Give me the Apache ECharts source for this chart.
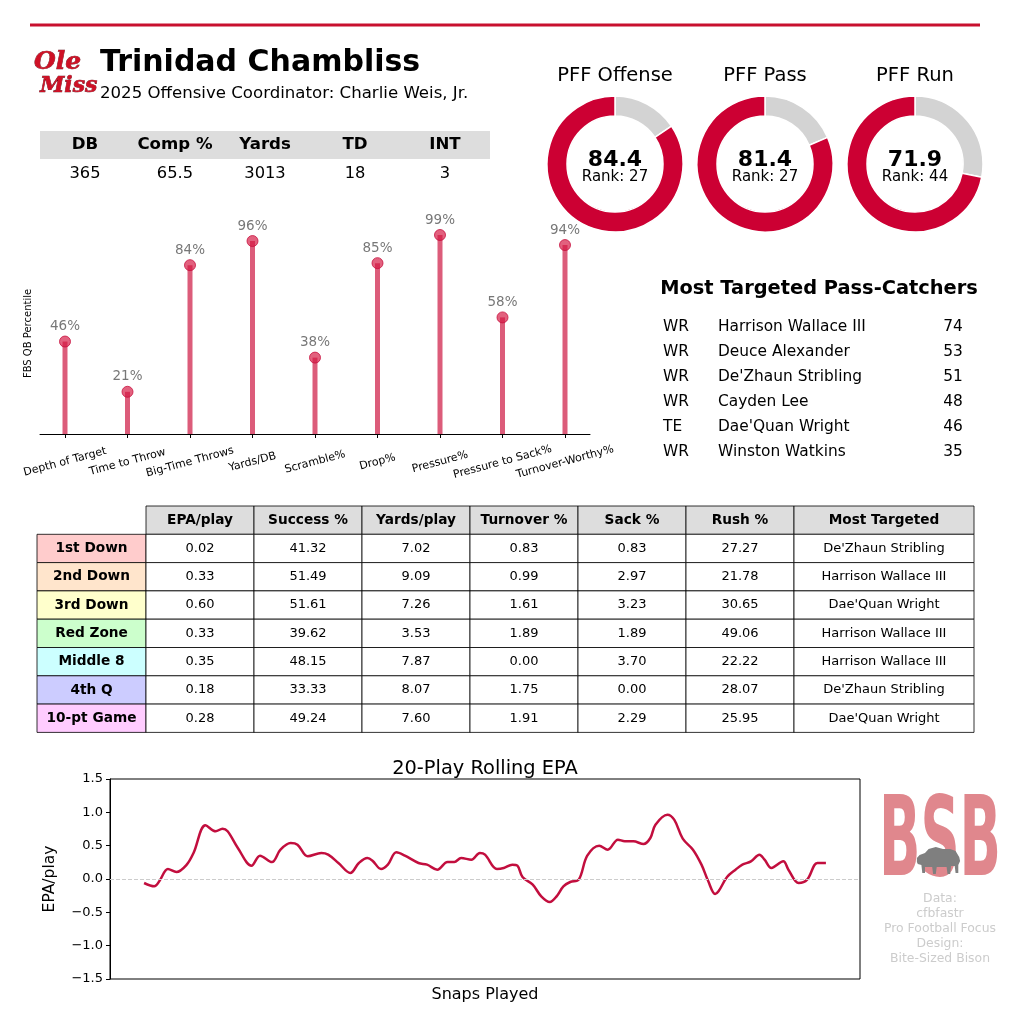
<!DOCTYPE html>
<html>
<head>
<meta charset="utf-8">
<script src="https://cdn.jsdelivr.net/npm/echarts@6/dist/echarts.min.js"></script>
<style>
  html, body { margin: 0; padding: 0; background: #fff; }
  #chart { width: 1024px; height: 1019px; }
</style>
</head>
<body>
<div id="chart"></div>
<script>
// ---- data ----
const playerName = 'Trinidad Chambliss'
const subTitle = '2025 Offensive Coordinator: Charlie Weis, Jr.'

const statHeaders = ['DB', 'Comp %', 'Yards', 'TD', 'INT']
const statValues = ['365', '65.5', '3013', '18', '3']

const pffLabels = ['PFF Offense', 'PFF Pass', 'PFF Run']
const pffGrades = [84.4, 81.4, 71.9]
const pffRanks = [27, 27, 44]

const lolliCats = ['Depth of Target', 'Time to Throw', 'Big-Time Throws', 'Yards/DB', 'Scramble%',
    'Drop%', 'Pressure%', 'Pressure to Sack%', 'Turnover-Worthy%']
const lolliPct = [46, 21, 84, 96, 38, 85, 99, 58, 94]

const targetPos = ['WR', 'WR', 'WR', 'WR', 'TE', 'WR']
const targetNames = ['Harrison Wallace III', 'Deuce Alexander', "De'Zhaun Stribling", 'Cayden Lee',
    "Dae'Quan Wright", 'Winston Watkins']
const targetCounts = [74, 53, 51, 48, 46, 35]

const splitRows = ['1st Down', '2nd Down', '3rd Down', 'Red Zone', 'Middle 8', '4th Q', '10-pt Game']
const splitCols = ['EPA/play', 'Success %', 'Yards/play', 'Turnover %', 'Sack %', 'Rush %', 'Most Targeted']
const epaPlay = ['0.02', '0.33', '0.60', '0.33', '0.35', '0.18', '0.28']
const successPct = ['41.32', '51.49', '51.61', '39.62', '48.15', '33.33', '49.24']
const yardsPlay = ['7.02', '9.09', '7.26', '3.53', '7.87', '8.07', '7.60']
const turnoverPct = ['0.83', '0.99', '1.61', '1.89', '0.00', '1.75', '1.91']
const sackPct = ['0.83', '2.97', '3.23', '1.89', '3.70', '0.00', '2.29']
const rushPct = ['27.27', '21.78', '30.65', '49.06', '22.22', '28.07', '25.95']
const mostTargeted = ["De'Zhaun Stribling", 'Harrison Wallace III', "Dae'Quan Wright", 'Harrison Wallace III',
    'Harrison Wallace III', "De'Zhaun Stribling", "Dae'Quan Wright"]

const epaSnaps = [0, 6, 9, 14, 19, 25, 29, 36, 42, 46, 49, 55, 63, 68, 75, 80, 86, 90, 96, 104, 108, 114,
    121, 126, 131, 134, 139, 143, 148, 153, 161, 166, 172, 178, 182, 186, 192, 197, 200, 207, 211, 216,
    219, 222, 228, 233, 238, 242, 246, 250, 255, 260, 267, 272, 278, 282, 287, 293, 297, 300, 307, 311,
    316, 322, 327, 331, 335, 337, 342, 347, 351, 356, 361, 364, 368, 375, 378, 384, 389, 395, 400]
const epaValues = [-0.06, -0.11, -0.03, 0.15, 0.105, 0.215, 0.39, 0.805, 0.715, 0.755, 0.715, 0.465, 0.2,
    0.35, 0.255, 0.44, 0.54, 0.515, 0.34, 0.39, 0.365, 0.24, 0.09, 0.24, 0.315, 0.275, 0.15, 0.215, 0.4,
    0.35, 0.24, 0.215, 0.14, 0.255, 0.255, 0.315, 0.29, 0.39, 0.365, 0.15, 0.165, 0.215, 0.2, 0.03, -0.085,
    -0.26, -0.345, -0.26, -0.11, -0.045, -0.01, 0.35, 0.5, 0.44, 0.59, 0.565, 0.565, 0.525, 0.615, 0.815,
    0.965, 0.89, 0.605, 0.44, 0.215, -0.035, -0.225, -0.185, 0.03, 0.14, 0.215, 0.265, 0.365, 0.29, 0.165,
    0.265, 0.14, -0.06, -0.01, 0.24, 0.24]

const creditLines = ['Data:', 'cfbfastr', 'Pro Football Focus', 'Design:', 'Bite-Sized Bison']

// ---- look ----
const RED = '#cc0033'
const FONT = 'DejaVu Sans'
const rowColors = ['#ffcccc', '#ffe5cc', '#ffffcc', '#ccffcc', '#ccffff', '#ccccff', '#ffccff']

const g = []
const text = (x, y, s, style) => g.push({
    type: 'text', x, y, silent: true,
    style: Object.assign({ text: s, fill: '#000', fontFamily: FONT, fontSize: 14, align: 'center', verticalAlign: 'middle' }, style),
})
const rect = (x, y, w, h, style) => g.push({
    type: 'rect', silent: true, shape: { x, y, width: w, height: h }, style,
})

// header
rect(30, 23.5, 950, 3, { fill: '#c8102e' })
text(34, 62, 'Ole', { align: 'left', fill: '#ce1126', stroke: '#5a0a14', lineWidth: 0.6, fontFamily: 'DejaVu Serif', fontStyle: 'italic', fontWeight: 'bold', fontSize: 25 })
text(40, 86, 'Miss', { align: 'left', fill: '#ce1126', stroke: '#5a0a14', lineWidth: 0.6, fontFamily: 'DejaVu Serif', fontStyle: 'italic', fontWeight: 'bold', fontSize: 22 })
text(100, 63, playerName, { align: 'left', fontWeight: 'bold', fontSize: 30 })
text(100, 94, subTitle, { align: 'left', fontSize: 16.6 })

// season stats
rect(40, 131, 450, 28, { fill: '#dddddd' })
statHeaders.forEach((h, i) => {
    text(85 + i * 90, 145, h, { fontWeight: 'bold', fontSize: 16.6 })
    text(85 + i * 90, 174, statValues[i], { fontSize: 16.3 })
})

// pff rings: titles and centre numbers
const ringX = [615, 765, 915]
pffLabels.forEach((l, i) => {
    text(ringX[i], 76, l, { fontSize: 19.5 })
    text(ringX[i], 160, pffGrades[i].toFixed(1), { fontWeight: 'bold', fontSize: 22 })
    text(ringX[i], 177, 'Rank: ' + pffRanks[i], { fontSize: 15 })
})

// most targeted list
text(819, 289, 'Most Targeted Pass-Catchers', { fontWeight: 'bold', fontSize: 19.4 })
targetNames.forEach((n, i) => {
    const y = 327 + i * 25
    text(663, y, targetPos[i], { align: 'left', fontSize: 15.4 })
    text(718, y, n, { align: 'left', fontSize: 15.4 })
    text(953, y, String(targetCounts[i]), { fontSize: 15.4 })
})

// situational table
const colData = [epaPlay, successPct, yardsPlay, turnoverPct, sackPct, rushPct, mostTargeted]
const colX = [146, 254, 362, 470, 578, 686, 794]
const colW = [108, 108, 108, 108, 108, 108, 180]
const rowH = 28.3
const top0 = 506
const cellLine = { stroke: '#000', lineWidth: 0.8 }
splitCols.forEach((c, j) => {
    rect(colX[j], top0, colW[j], rowH, Object.assign({ fill: '#dddddd' }, cellLine))
    text(colX[j] + colW[j] / 2, top0 + rowH / 2, c, { fontWeight: 'bold', fontSize: 13.7 })
})
splitRows.forEach((r, i) => {
    const y = top0 + rowH * (i + 1)
    rect(37, y, 109, rowH, Object.assign({ fill: rowColors[i] }, cellLine))
    text(37 + 54.5, y + rowH / 2, r, { fontWeight: 'bold', fontSize: 13.7 })
    colData.forEach((col, j) => {
        rect(colX[j], y, colW[j], rowH, Object.assign({ fill: '#fff' }, cellLine))
        text(colX[j] + colW[j] / 2, y + rowH / 2, col[i], { fontSize: 13 })
    })
})

// bsb logo + credits
g.push({
    type: 'text', x: 940, y: 846, scaleX: 0.55, scaleY: 1.0, silent: true,
    style: { text: 'BSB', fill: '#e0878d', fontFamily: 'DejaVu Sans Condensed', fontWeight: 'bold', fontSize: 110, align: 'center', verticalAlign: 'middle' },
})
g.push({
    type: 'polygon', x: 916, y: 845, scaleX: 0.9, scaleY: 1.0, silent: true,
    shape: { points: [[48, 12], [44, 6], [38, 4], [30, 4], [22, 2], [14, 4], [10, 8], [4, 10], [1, 13], [1, 17], [2, 19],
        [6, 20], [7, 28], [10, 28], [10, 22], [18, 22], [19, 29], [22, 29], [23, 22], [34, 22], [35, 29], [38, 29],
        [39, 21], [43, 21], [44, 28], [47, 28], [47, 20], [49, 16]] },
    style: { fill: '#7f7f7f' },
})
creditLines.forEach((l, i) => text(940, 899 + i * 15, l, { fill: '#cccccc', fontSize: 12.4 }))

// ---- chart ----
const chart = echarts.init(document.getElementById('chart'))

const pies = pffGrades.map((v, i) => ({
    type: 'pie', silent: true, center: [ringX[i], 164], radius: [48, 68], startAngle: 90, clockwise: true,
    label: { show: false }, labelLine: { show: false },
    itemStyle: { borderColor: '#fff', borderWidth: 1.5 },
    data: [
        { value: +(100 - v).toFixed(1), itemStyle: { color: '#d3d3d3' } },
        { value: v, itemStyle: { color: RED } },
    ],
}))

const idx = lolliCats.map((c, i) => i)

chart.setOption({
    animation: false,
    textStyle: { fontFamily: FONT },
    graphic: g,
    title: [{
        text: '20-Play Rolling EPA', left: 480, top: 754, textAlign: 'center',
        textStyle: { fontSize: 19.4, fontWeight: 'normal', color: '#000', fontFamily: FONT },
    }],
    grid: [
        { left: 40, top: 233, width: 550, height: 201 },
        { left: 110, top: 779, width: 750, height: 200, show: true, borderColor: '#000', borderWidth: 1, backgroundColor: 'transparent' },
    ],
    xAxis: [{
        gridIndex: 0, type: 'value', min: -0.4, max: 8.4,
        splitLine: { show: false },
        axisLine: { show: true, onZero: false, lineStyle: { color: '#000', width: 1 } },
        axisTick: { show: true, customValues: idx, length: 4, lineStyle: { color: '#000' } },
        axisLabel: {
            customValues: idx, rotate: 15, margin: 28, align: 'center', verticalAlign: 'middle',
            fontSize: 11, color: '#000', formatter: v => lolliCats[Math.round(v)],
        },
    }, {
        gridIndex: 1, type: 'value', min: -20, max: 420,
        name: 'Snaps Played', nameLocation: 'middle', nameGap: 8,
        nameTextStyle: { fontSize: 16, color: '#000' },
        axisLine: { show: false }, axisTick: { show: false }, axisLabel: { show: false }, splitLine: { show: false },
    }],
    yAxis: [{
        gridIndex: 0, type: 'value', min: 0, max: 100,
        name: 'FBS QB Percentile', nameLocation: 'middle', nameGap: 7, nameRotate: 90,
        nameTextStyle: { fontSize: 10, color: '#000' },
        axisLine: { show: false }, axisTick: { show: false }, axisLabel: { show: false }, splitLine: { show: false },
    }, {
        gridIndex: 1, type: 'value', min: -1.5, max: 1.5, interval: 0.5,
        name: 'EPA/play', nameLocation: 'middle', nameGap: 52, nameRotate: 90,
        nameTextStyle: { fontSize: 15.5, color: '#000' },
        axisLine: { show: true, onZero: false, lineStyle: { color: '#000' } },
        axisTick: { show: true, length: 4, lineStyle: { color: '#000' } },
        axisLabel: { fontSize: 13, color: '#000', margin: 7, formatter: v => (v < 0 ? '\u2212' : '') + Math.abs(v).toFixed(1) },
        splitLine: { show: false },
    }],
    series: [
        ...pies,
        {
            type: 'bar', xAxisIndex: 0, yAxisIndex: 0, silent: true, barWidth: 5,
            itemStyle: { color: '#dc5c7a' },
            data: lolliPct.map((v, i) => [i, v]),
        },
        {
            type: 'scatter', xAxisIndex: 0, yAxisIndex: 0, silent: true, clip: false, symbolSize: 11,
            itemStyle: { color: 'rgba(212,24,66,0.85)', borderColor: '#c8103e', borderWidth: 1 },
            label: { show: true, position: 'top', distance: 2, fontSize: 13.5, color: '#555', formatter: p => p.value[1] + '%' },
            data: lolliPct.map((v, i) => [i, v]),
        },
        {
            type: 'line', xAxisIndex: 1, yAxisIndex: 1, silent: true, smooth: 0.35, showSymbol: false,
            lineStyle: { color: '#c20e3e', width: 2.5 },
            data: epaSnaps.map((s, i) => [s, epaValues[i]]),
            markLine: {
                silent: true, symbol: 'none', label: { show: false },
                lineStyle: { color: '#cccccc', type: 'dashed', width: 1 },
                data: [{ yAxis: 0 }],
            },
        },
    ],
})
</script>
</body>
</html>
